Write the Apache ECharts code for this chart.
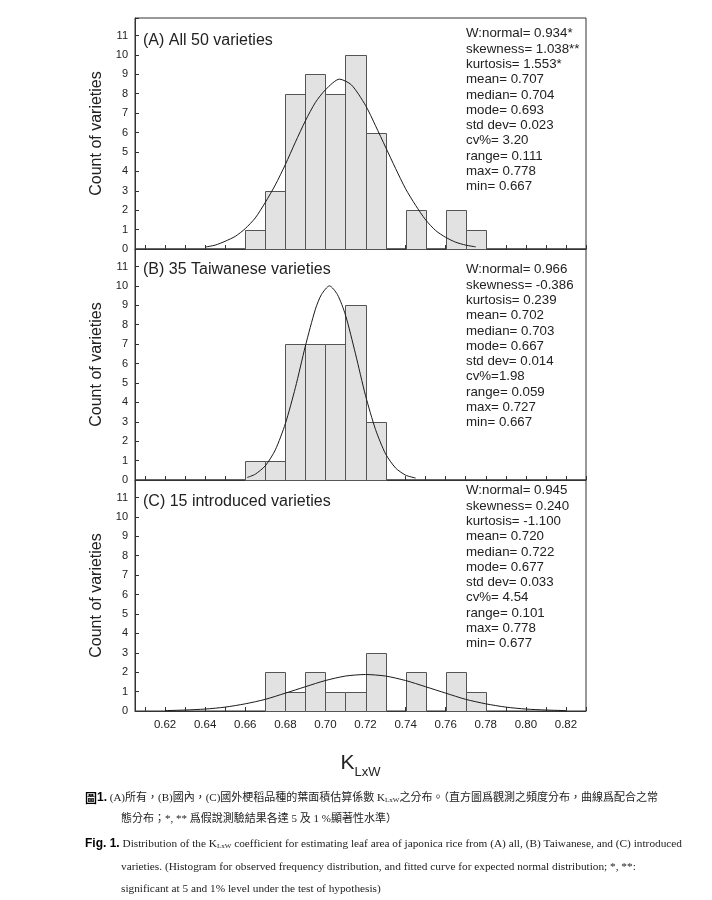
<!DOCTYPE html>
<html><head><meta charset="utf-8">
<script src="https://cdn.jsdelivr.net/npm/echarts@6/dist/echarts.min.js"></script>
<style>html,body{margin:0;padding:0;background:#fff}#c{width:712px;height:900px}</style>
</head><body><div id="c"></div>
<script>
// ---------- data ----------
const binWidth = 0.01;
const binStartsA = [0.66,0.67,0.68,0.69,0.70,0.71,0.72,0.73,0.74,0.75,0.76,0.77];
const countsA    = [1,3,8,9,8,10,6,0,2,0,2,1];
const binStartsB = [0.66,0.67,0.68,0.69,0.70,0.71,0.72];
const countsB    = [1,1,7,7,7,9,3];
const binStartsC = [0.67,0.68,0.69,0.70,0.71,0.72,0.73,0.74,0.75,0.76,0.77];
const countsC    = [2,1,2,1,1,3,0,2,0,2,1];

const curveAx = [0.640,0.645,0.650,0.655,0.660,0.665,0.670,0.675,0.680,0.685,0.690,0.695,0.700,0.707,0.713,0.720,0.725,0.730,0.735,0.740,0.745,0.750,0.755,0.760,0.765,0.770,0.775];
const curveAy = [0.10,0.20,0.40,0.65,1.05,1.6,2.4,3.3,4.35,5.5,6.6,7.55,8.2,8.75,8.45,7.4,6.35,5.25,4.15,3.1,2.25,1.5,0.95,0.6,0.35,0.2,0.11];
const curveBx = [0.661,0.665,0.670,0.675,0.680,0.685,0.690,0.695,0.698,0.702,0.706,0.710,0.715,0.720,0.725,0.730,0.735,0.740,0.745];
const curveBy = [0.13,0.3,0.73,1.55,2.9,4.75,6.9,8.8,9.55,10.0,9.55,8.5,6.5,4.35,2.6,1.35,0.62,0.25,0.1];
const curveCx = [0.62,0.63,0.64,0.65,0.66,0.67,0.68,0.69,0.70,0.71,0.72,0.73,0.74,0.75,0.76,0.77,0.78,0.79,0.80,0.81,0.82];
const curveCy = [0.02,0.05,0.1,0.2,0.37,0.6,0.92,1.25,1.57,1.8,1.88,1.8,1.57,1.25,0.92,0.6,0.37,0.2,0.1,0.05,0.02];

const xTickLabels = ['0.62','0.64','0.66','0.68','0.70','0.72','0.74','0.76','0.78','0.80','0.82'];
const yTickLabels = ['0','1','2','3','4','5','6','7','8','9','10','11'];

const panelTitles = ['(A) All 50 varieties','(B) 35 Taiwanese varieties','(C) 15 introduced varieties'];
const statsA = ['W:normal= 0.934*','skewness= 1.038**','kurtosis= 1.553*','mean= 0.707','median= 0.704','mode= 0.693','std dev= 0.023','cv%= 3.20','range= 0.111','max= 0.778','min= 0.667'];
const statsB = ['W:normal= 0.966','skewness= -0.386','kurtosis= 0.239','mean= 0.702','median= 0.703','mode= 0.667','std dev= 0.014','cv%=1.98','range= 0.059','max= 0.727','min= 0.667'];
const statsC = ['W:normal= 0.945','skewness= 0.240','kurtosis= -1.100','mean= 0.720','median= 0.722','mode= 0.677','std dev= 0.033','cv%= 4.54','range= 0.101','max= 0.778','min= 0.677'];

const yName = 'Count of varieties';
const captionZh1 = '(A)所有，(B)國內，(C)國外梗稻品種的葉面積估算係數 K';
const captionZh1b = '之分布。（直方圖爲觀測之頻度分布，曲線爲配合之常';
const captionZh2 = '態分布；*, ** 爲假說測驗結果各達 5 及 1 %顯著性水準）';
const captionEn1a = ' Distribution of the K';
const captionEn1b = ' coefficient for estimating leaf area of japonica rice from (A) all, (B) Taiwanese, and (C) introduced';
const captionEn2 = 'varieties. (Histogram for observed frequency distribution, and fitted curve for expected normal distribution; *, **:';
const captionEn3 = 'significant at 5 and 1% level under the test of hypothesis)';

// ---------- chart ----------
const SANS = "'Liberation Sans', Arial, sans-serif";
const SERIF = "'Liberation Serif', 'Noto Sans CJK TC', serif";
const ink = '#222';

function histData(starts, counts) {
  return starts.map((s, i) => [s, Math.round((s + binWidth) * 1000) / 1000, counts[i]]);
}
function histItem(params, api) {
  const c = api.value(2);
  if (!c) return null;
  const p0 = api.coord([api.value(0), c]);
  const p1 = api.coord([api.value(1), 0]);
  return {
    type: 'rect',
    shape: { x: Math.round(p0[0]) + 0.5, y: Math.round(p0[1]) + 0.5, width: Math.round(p1[0]) - Math.round(p0[0]), height: Math.round(p1[1]) - Math.round(p0[1]) },
    style: { fill: '#e2e2e2', stroke: '#555', lineWidth: 1 }
  };
}
function pairs(xs, ys) { return xs.map((x, i) => [x, ys[i]]); }

const gridTops = [18, 249, 480];
const grids = gridTops.map(t => ({
  left: 135, right: 126, top: t, height: 231,
  show: true, borderColor: '#333', borderWidth: 1, backgroundColor: 'transparent'
}));

const xAxes = [0, 1, 2].map(i => ({
  gridIndex: i, type: 'value', min: 0.605, max: 0.83,
  splitNumber: 22, minInterval: 0.01, maxInterval: 0.01,
  axisLine: { lineStyle: { color: '#333', width: 1 } },
  axisTick: { show: true, inside: true, length: 4, lineStyle: { color: '#333' } },
  splitLine: { show: false },
  axisLabel: {
    show: i === 2, margin: 8, color: ink, fontFamily: SANS, fontSize: 11.5,
    formatter: v => { const s = v.toFixed(2); return xTickLabels.indexOf(s) >= 0 && Math.abs(v - parseFloat(s)) < 1e-6 ? s : ''; }
  },
  name: i === 2 ? '{k|K}{s|LxW}' : '',
  nameLocation: 'middle', nameGap: 42,
  nameTextStyle: {
    color: ink, fontFamily: SANS,
    rich: { k: { fontSize: 21, fontFamily: SANS, color: ink, verticalAlign: 'bottom', padding: [0, 0, 5, 0] },
            s: { fontSize: 13, fontFamily: SANS, color: ink, verticalAlign: 'bottom' } }
  }
}));

const yAxes = [0, 1, 2].map(i => ({
  gridIndex: i, type: 'value', min: 0, max: 11.9, interval: 1,
  axisLine: { show: true, lineStyle: { color: '#333', width: 1 } },
  axisTick: { show: true, inside: true, length: 4, lineStyle: { color: '#333' } },
  splitLine: { show: false },
  axisLabel: {
    margin: 7, color: ink, fontFamily: SANS, fontSize: 11,
    formatter: v => { const s = String(Math.round(v)); return Math.abs(v - Math.round(v)) < 1e-6 && yTickLabels.indexOf(s) >= 0 ? s : ''; }
  },
  name: yName, nameLocation: 'middle', nameGap: 29, nameRotate: 90,
  nameTextStyle: { color: ink, fontFamily: SANS, fontSize: 16 }
}));

const series = [];
[[binStartsA, countsA], [binStartsB, countsB], [binStartsC, countsC]].forEach((d, i) => {
  series.push({ type: 'custom', xAxisIndex: i, yAxisIndex: i, renderItem: histItem,
    encode: { x: [0, 1], y: 2 }, data: histData(d[0], d[1]), silent: true, z: 2 });
});
[[curveAx, curveAy], [curveBx, curveBy], [curveCx, curveCy]].forEach((d, i) => {
  series.push({ type: 'line', xAxisIndex: i, yAxisIndex: i, data: pairs(d[0], d[1]),
    showSymbol: false, smooth: 0.25, lineStyle: { color: '#1a1a1a', width: 1 }, z: 3, silent: true });
});

const titleTops = [33, 262, 494];
const statTops = [26, 262, 483];
const stats = [statsA, statsB, statsC];
const titles = [];
panelTitles.forEach((t, i) => {
  titles.push({ text: t, left: 143, top: titleTops[i], padding: 0,
    textStyle: { fontFamily: SANS, fontSize: 16, fontWeight: 'normal', color: ink } });
  titles.push({ text: stats[i].join('\n'), left: 466, top: statTops[i], padding: 0,
    textStyle: { fontFamily: SANS, fontSize: 13.3, fontWeight: 'normal', color: ink, lineHeight: 15.3 } });
});

const zhSize = 11;
const enSize = 11.3;
const graphic = [
  { type: 'text', left: 85, top: 792, style: {
      text: '{b|圖}{n|1.} ' + captionZh1 + '{s|LxW}' + captionZh1b,
      fontFamily: SERIF, fontSize: zhSize, fill: ink,
      rich: { b: { fontFamily: "'Noto Sans CJK TC'", fontWeight: 'bold', fontSize: 12, fill: '#000' },
              n: { fontFamily: SANS, fontWeight: 'bold', fontSize: 12, fill: '#000' },
              s: { fontFamily: SERIF, fontSize: 7, fill: ink, verticalAlign: 'bottom', padding: [3, 0, 0, 0] } } } },
  { type: 'text', left: 121, top: 814, style: { text: captionZh2, fontFamily: SERIF, fontSize: zhSize, fill: ink } },
  { type: 'text', left: 85, top: 838, style: {
      text: '{f|Fig. 1.}' + captionEn1a + '{s|LxW}' + captionEn1b,
      fontFamily: SERIF, fontSize: enSize, fill: ink,
      rich: { f: { fontFamily: SANS, fontWeight: 'bold', fontSize: 12, fill: '#000' },
              s: { fontFamily: SERIF, fontSize: 7, fill: ink, verticalAlign: 'bottom', padding: [3, 0, 0, 0] } } } },
  { type: 'text', left: 121, top: 861, style: { text: captionEn2, fontFamily: SERIF, fontSize: enSize, fill: ink } },
  { type: 'text', left: 121, top: 883, style: { text: captionEn3, fontFamily: SERIF, fontSize: enSize, fill: ink } }
];

const chart = echarts.init(document.getElementById('c'), null, { renderer: 'canvas' });
chart.setOption({
  backgroundColor: '#fff', animation: false,
  grid: grids, xAxis: xAxes, yAxis: yAxes, series: series, title: titles, graphic: graphic
});
</script></body></html>
